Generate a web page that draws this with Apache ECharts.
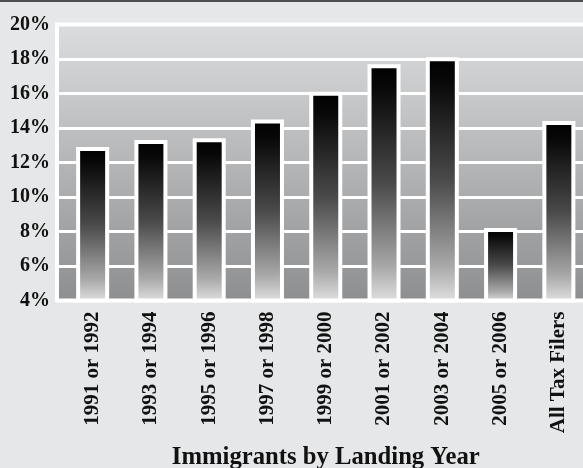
<!DOCTYPE html>
<html>
<head>
<meta charset="utf-8">
<script src="https://cdn.jsdelivr.net/npm/echarts@6/dist/echarts.min.js"></script>
<style>
  html, body { margin: 0; padding: 0; background: #e6e7e8; }
  #chart { width: 583px; height: 466px; border-top: 2px solid #4f4f4f; }
</style>
</head>
<body>
<div id="chart"></div>
<script>
// Share of each landing cohort (and all tax filers), in percent
const categories = ['1991 or 1992', '1993 or 1994', '1995 or 1996', '1997 or 1998',
  '1999 or 2000', '2001 or 2002', '2003 or 2004', '2005 or 2006', 'All Tax Filers'];
const values = [12.9, 13.3, 13.4, 14.5, 16.1, 17.7, 18.1, 8.2, 14.4];
const yMin = 4, yMax = 20, yStep = 2;
const axisTitle = 'Immigrants by Landing Year';

const FONT = '"Liberation Serif", "DejaVu Serif", serif';

const chart = echarts.init(document.getElementById('chart'), null, { renderer: 'canvas' });

const plotTop = 22.5, plotBottom = 167.5;

chart.setOption({
  animation: false,
  backgroundColor: '#e6e7e8',
  grid: [
    // framed plot panel with its own gradient fill and white grid lines
    {
      left: 57, right: -12, top: plotTop, bottom: plotBottom,
      outerBoundsMode: 'none', containLabel: false,
      show: true,
      borderColor: '#ffffff', borderWidth: 4,
      backgroundColor: {
        type: 'linear', x: 0, y: 0, x2: 0, y2: 1,
        colorStops: [
          { offset: 0, color: '#dcddde' },
          { offset: 1, color: '#8d8e90' }
        ]
      }
    },
    // bar layer
    {
      left: 63.5, right: -5, top: plotTop, bottom: plotBottom,
      outerBoundsMode: 'none', containLabel: false
    }
  ],
  xAxis: [
    { gridIndex: 0, type: 'value', show: false, min: 0, max: 1 },
    {
      gridIndex: 1, type: 'category', data: categories,
      axisLine: { show: false }, axisTick: { show: false },
      axisLabel: {
        rotate: 90, margin: 11, interval: 0,
        fontFamily: FONT, fontWeight: 'bold', fontSize: 21, color: '#111'
      },
      name: axisTitle, nameLocation: 'middle', nameGap: 145,
      nameTextStyle: { fontFamily: FONT, fontWeight: 'bold', fontSize: 24.7, color: '#111' }
    }
  ],
  yAxis: [
    {
      gridIndex: 0, type: 'value', min: yMin, max: yMax, interval: yStep,
      axisLine: { show: false }, axisTick: { show: false },
      axisLabel: {
        formatter: '{value}%', margin: 7,
        fontFamily: FONT, fontWeight: 'bold', fontSize: 20, color: '#111'
      },
      splitLine: { show: true, lineStyle: { color: '#ffffff', width: 3 } }
    },
    {
      gridIndex: 1, type: 'value', min: yMin, max: yMax, interval: yStep,
      show: false, splitLine: { show: false }
    }
  ],
  series: [{
    type: 'bar',
    xAxisIndex: 1, yAxisIndex: 1,
    data: values,
    barWidth: 33,
    itemStyle: {
      borderColor: '#ffffff', borderWidth: 4,
      color: {
        type: 'linear', x: 0, y: 0, x2: 0, y2: 1,
        colorStops: [
          { offset: 0, color: '#000000' },
          { offset: 0.1, color: '#080808' },
          { offset: 0.5, color: '#4a4a4a' },
          { offset: 0.85, color: '#a8a8a8' },
          { offset: 1, color: '#e2e2e2' }
        ]
      }
    }
  }]
});
</script>
</body>
</html>
